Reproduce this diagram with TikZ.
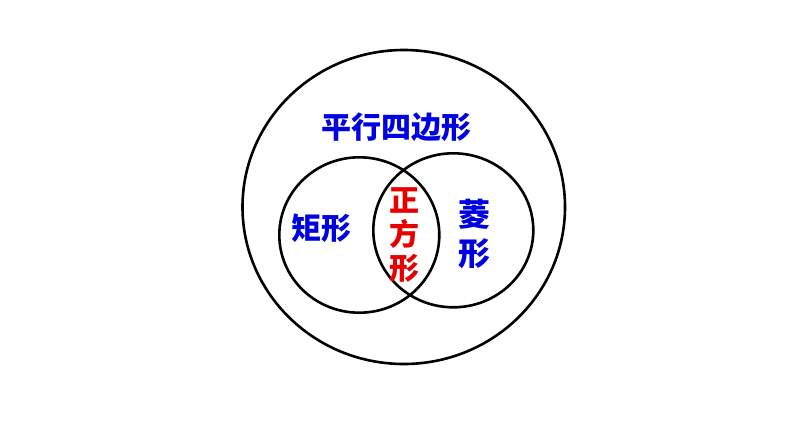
\documentclass[tikz,border=0pt]{standalone}
\usepackage{fontspec}
\newfontfamily\cjk{Noto Sans CJK SC}
\definecolor{setblue}{RGB}{0,0,225}
\definecolor{setred}{RGB}{230,0,0}
\begin{document}
\begin{tikzpicture}[x=1pt, y=-1pt, line width=2.6pt,
    setname/.style={font=\cjk\bfseries\fontsize{30}{34}\selectfont, inner sep=0pt}]
    \useasboundingbox (0,0) rectangle (794,447);
    \draw[black] (403.75,207) ellipse [x radius=161.25pt, y radius=157pt];
    \draw[black] (359.3,235) ellipse [x radius=80pt, y radius=77.7pt];
    \draw[black] (453.3,230.3) ellipse [x radius=80pt, y radius=77pt];

    \node (para) at (396,127)[setname, text=setblue] {平行四边形};
    \node (rect) at (321.7,228)[setname, text=setblue] {矩形};
    \node (squa) at (404.6,235)[setname, text=setred, align=center] {正\\方\\形};
    \node (rhom) at (474.7,233.5)[setname, text=setblue, align=center,
        font=\cjk\bfseries\fontsize{32}{39}\selectfont] {菱\\形};
\end{tikzpicture}
\end{document}
